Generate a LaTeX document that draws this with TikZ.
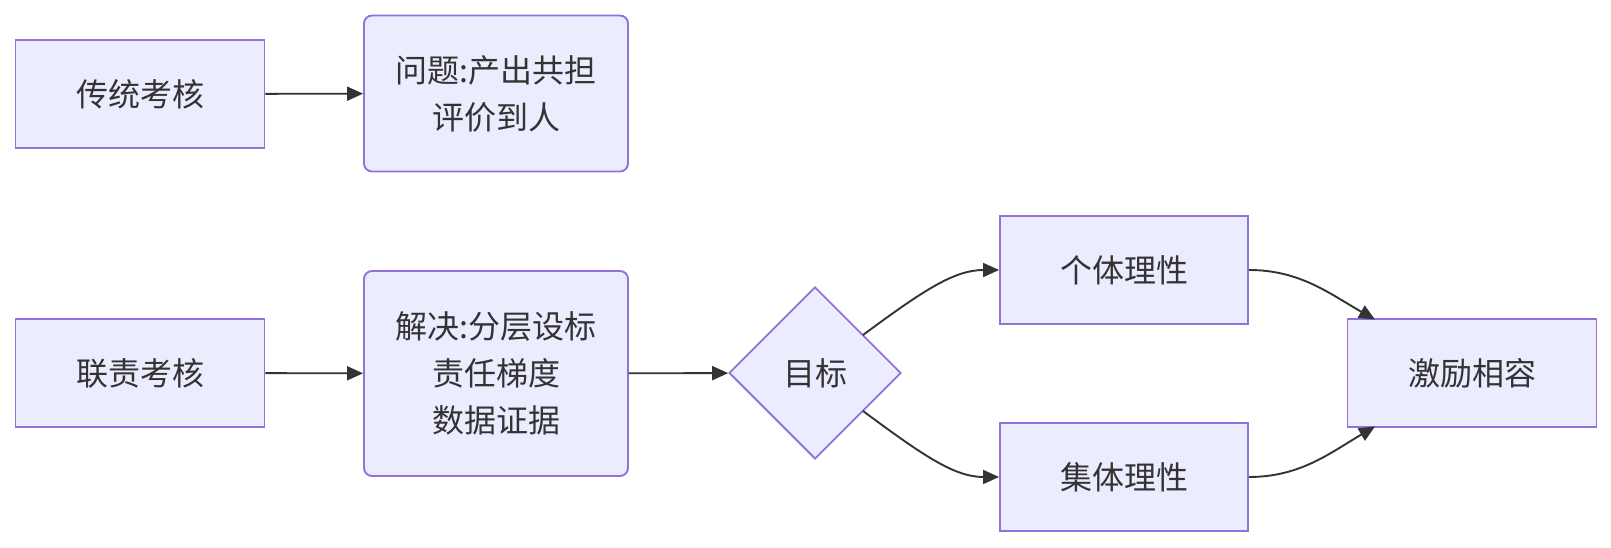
\documentclass[tikz,border=0pt]{standalone}
\usepackage{fontspec}
\setmainfont{Noto Sans CJK SC}
\usepackage{xcolor}
\usetikzlibrary{shapes.geometric,arrows.meta,positioning,calc}
\definecolor{boxfill}{HTML}{ECECFF}
\definecolor{boxline}{HTML}{9370DB}
\definecolor{ink}{HTML}{333333}

\begin{document}
\begin{tikzpicture}[x=1pt,y=1pt,
  box/.style={draw=boxline, fill=boxfill, line width=1.9pt, text=ink,
    font=\fontsize{32}{47}\selectfont, align=center, inner sep=0pt},
  plain/.style={box, minimum width=249pt, minimum height=108pt},
  soft/.style={box, rounded corners=8pt, minimum width=264pt},
  goalbox/.style={box, diamond, aspect=1, minimum width=172pt, minimum height=172pt},
  flow/.style={draw=ink, line width=1.9pt, -{Triangle[length=16pt,width=14pt]}}]
\useasboundingbox (0,0) rectangle (1611,548);

% Traditional appraisal
\node[plain] (trad) at (140,454) {传统考核};
\node[soft, minimum height=156pt] (prob) at (496,454.5) {问题:产出共担\\评价到人};
\draw[flow] (trad) -- (prob);

% Joint appraisal
\node[plain] (joint) at (140,175) {联责考核};
\node[soft, minimum height=205pt] (sol) at (496,174.5) {解决:分层设标\\责任梯度\\数据证据};
\node[goalbox] (goal) at (815,175) {目标};
\draw[flow] (joint) -- (sol);
\draw[flow] (sol) -- (goal);

% Two rationalities
\node[plain, minimum width=248pt] (indiv) at (1124,278) {个体理性};
\node[plain, minimum width=248pt] (coll) at (1124,71) {集体理性};
\node[plain] (incent) at (1472,175) {激励相容};
\coordinate (gup) at (863,213);
\coordinate (gdn) at (863,137);
\draw[flow] (gup) .. controls (925,259) and (955,278) .. (indiv.west);
\draw[flow] (gdn) .. controls (925,91) and (955,71) .. (coll.west);
\draw[flow] (indiv.east) .. controls (1300,278) and (1330,254) .. (1375,228.5);
\draw[flow] (coll.east) .. controls (1300,71) and (1330,95) .. (1375,121.5);
\end{tikzpicture}
\end{document}
